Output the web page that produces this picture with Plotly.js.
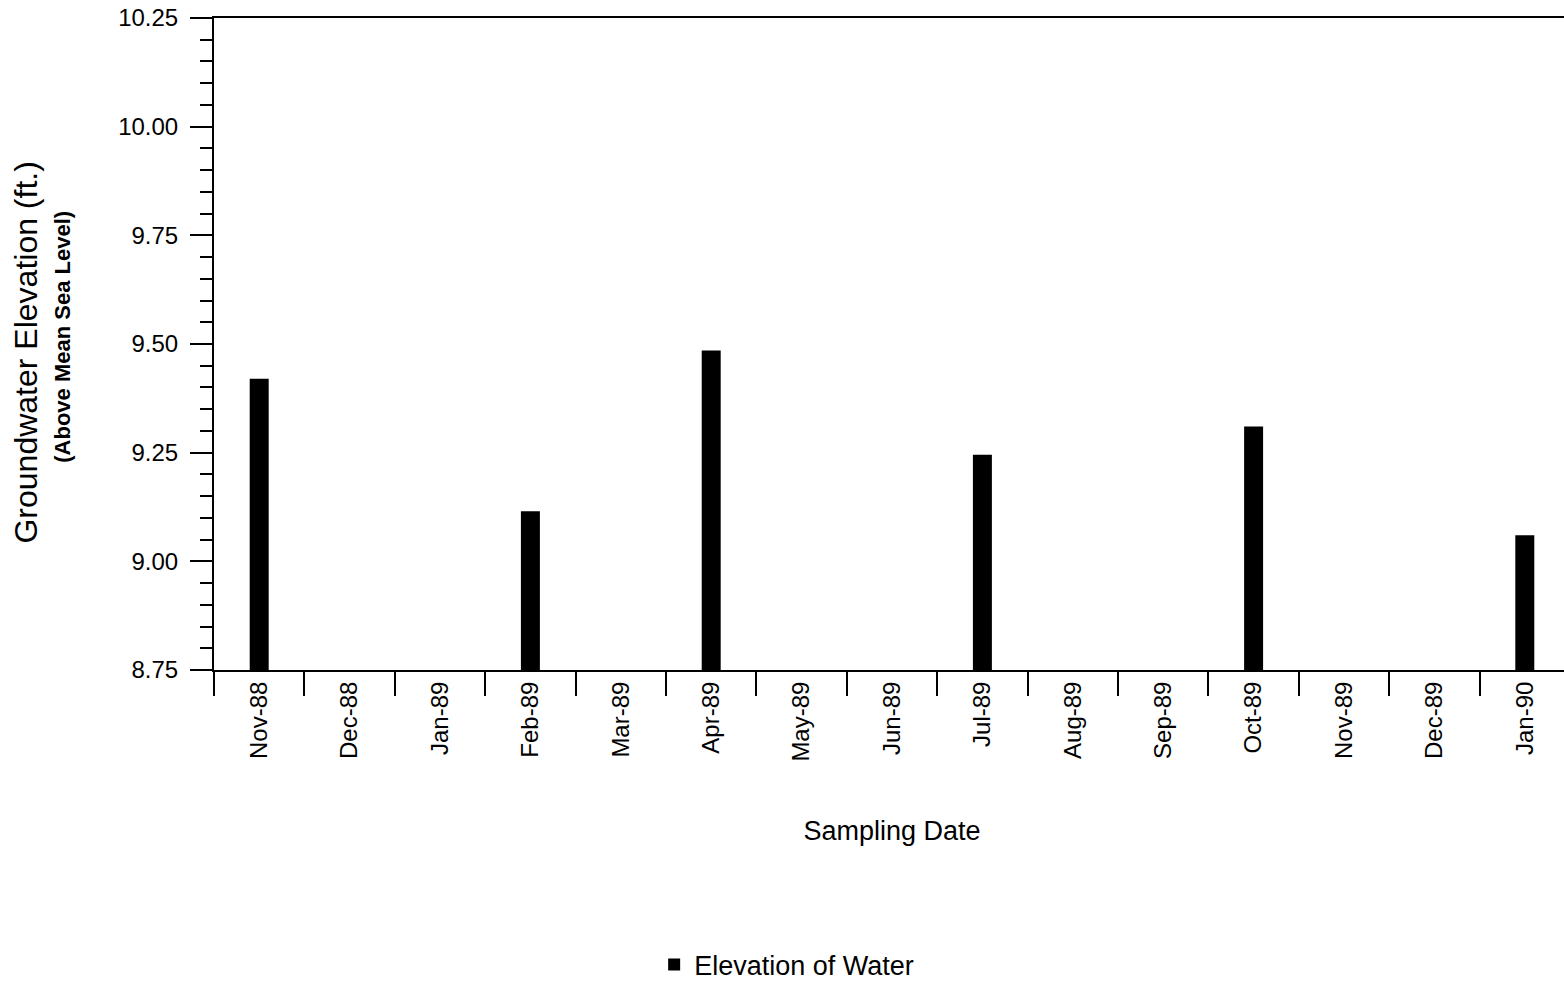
<!DOCTYPE html>
<html>
<head>
<meta charset="utf-8">
<script src="https://cdn.plot.ly/plotly-3.0.1.min.js"></script>
<style>
  html, body { margin: 0; padding: 0; background: #fff; overflow: hidden; }
  #chart { width: 1570px; height: 981px; }
</style>
</head>
<body>
<div id="chart"></div>
<script>
const categories = ["Nov-88","Dec-88","Jan-89","Feb-89","Mar-89","Apr-89","May-89","Jun-89","Jul-89","Aug-89","Sep-89","Oct-89","Nov-89","Dec-89","Jan-90"];
const elevation = [9.42, null, null, 9.115, null, 9.485, null, null, 9.245, null, null, 9.31, null, null, 9.06];
const seriesName = "Elevation of Water";
const yTitle = "Groundwater Elevation (ft.)";
const ySubtitle = "(Above Mean Sea Level)";
const xTitle = "Sampling Date";

const font = "Liberation Sans, Arial, Helvetica, sans-serif";

const trace = {
  type: "bar",
  x: categories,
  y: elevation,
  name: seriesName,
  width: 0.21,
  marker: { color: "#000000", line: { width: 0 } },
  showlegend: true
};

const layout = {
  width: 1570,
  height: 981,
  margin: { l: 214, r: 0, t: 18, b: 311, autoexpand: false },
  paper_bgcolor: "#ffffff",
  plot_bgcolor: "#ffffff",
  font: { family: font, color: "#000000", size: 24 },
  xaxis: {
    type: "category",
    range: [-0.5, 14.5],
    tickson: "boundaries",
    ticks: "outside",
    ticklen: 24,
    tickwidth: 2,
    tickcolor: "#000",
    tickangle: -90,
    ticklabelstandoff: 0,
    tickfont: { size: 24, family: font, color: "#000" },
    showline: true,
    linecolor: "#000",
    linewidth: 2,
    mirror: true,
    showgrid: false,
    zeroline: false,
    fixedrange: true,
    automargin: false,
    title: { text: xTitle, font: { size: 27, family: font, color: "#000" }, standoff: 60 }
  },
  yaxis: {
    range: [8.75, 10.25],
    tickvals: [8.75, 9.0, 9.25, 9.5, 9.75, 10.0, 10.25],
    tickformat: ".2f",
    ticks: "outside",
    ticklen: 22,
    tickwidth: 2,
    tickcolor: "#000",
    ticklabelstandoff: 7,
    tickfont: { size: 24, family: font, color: "#000" },
    minor: { dtick: 0.05, tick0: 8.75, ticks: "outside", ticklen: 12, tickwidth: 2, tickcolor: "#000", showgrid: false },
    showline: true,
    linecolor: "#000",
    linewidth: 2,
    showgrid: false,
    zeroline: false,
    fixedrange: true,
    automargin: false
  },
  legend: {
    orientation: "h",
    x: 0.3246,
    xanchor: "left",
    yref: "container",
    y: 0.0163,
    yanchor: "middle",
    font: { size: 27, family: font, color: "#000" },
    bgcolor: "rgba(0,0,0,0)"
  },
  annotations: [
    {
      text: yTitle,
      xref: "paper", yref: "paper",
      x: -0.1386, y: 0.487,
      xanchor: "center", yanchor: "middle",
      textangle: -90,
      showarrow: false,
      font: { size: 32, family: font, color: "#000" }
    },
    {
      text: ySubtitle,
      xref: "paper", yref: "paper",
      x: -0.1114, y: 0.511,
      xanchor: "center", yanchor: "middle",
      textangle: -90,
      showarrow: false,
      font: { size: 22, family: font, color: "#000", weight: "bold" }
    }
  ]
};

Plotly.newPlot("chart", [trace], layout, { displayModeBar: false, staticPlot: true });
</script>
</body>
</html>
